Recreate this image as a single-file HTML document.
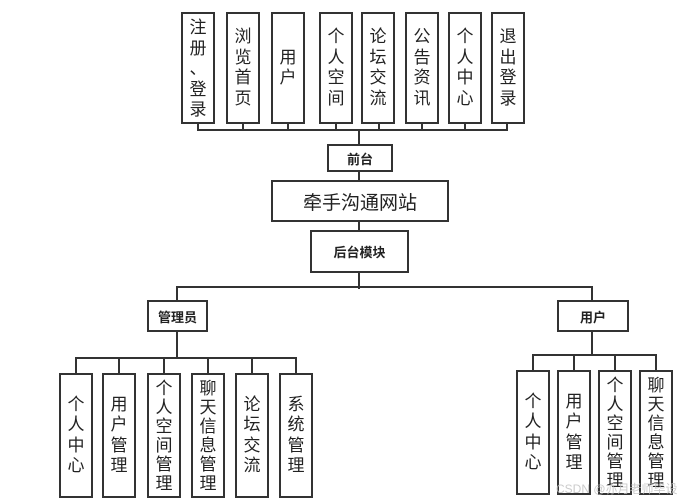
<!DOCTYPE html>
<html><head><meta charset="utf-8"><style>
body{margin:0;width:690px;height:500px;background:#fff;position:relative;overflow:hidden;font-family:"Liberation Sans","Noto Sans CJK SC",sans-serif;color:#222}
.b{position:absolute;border:2px solid #333;box-sizing:border-box;display:flex;align-items:center;justify-content:center;text-align:center;background:#fff}
.v{font-size:17px;line-height:20.5px}
.h{font-weight:bold;font-size:13px}
.l{position:absolute;background:#333}
</style></head><body>
<!-- top bus -->
<div class="l" style="left:197px;top:129px;width:311px;height:2px"></div>
<div class="l" style="left:197px;top:122px;width:2px;height:8px"></div>
<div class="l" style="left:242px;top:122px;width:2px;height:8px"></div>
<div class="l" style="left:287px;top:122px;width:2px;height:8px"></div>
<div class="l" style="left:335px;top:122px;width:2px;height:8px"></div>
<div class="l" style="left:378px;top:122px;width:2px;height:8px"></div>
<div class="l" style="left:421px;top:122px;width:2px;height:8px"></div>
<div class="l" style="left:464px;top:122px;width:2px;height:8px"></div>
<div class="l" style="left:506px;top:122px;width:2px;height:8px"></div>
<div class="l" style="left:358px;top:129px;width:2px;height:160px"></div>
<div class="b v" style="left:181px;top:12px;width:34px;height:112px;align-items:flex-start;padding-top:4px">注<br>册<br>、<br>登<br>录</div>
<div class="b v" style="left:226px;top:12px;width:34px;height:112px">浏<br>览<br>首<br>页</div>
<div class="b v" style="left:271px;top:12px;width:34px;height:112px">用<br>户</div>
<div class="b v" style="left:319px;top:12px;width:34px;height:112px">个<br>人<br>空<br>间</div>
<div class="b v" style="left:361px;top:12px;width:34px;height:112px">论<br>坛<br>交<br>流</div>
<div class="b v" style="left:405px;top:12px;width:34px;height:112px">公<br>告<br>资<br>讯</div>
<div class="b v" style="left:448px;top:12px;width:34px;height:112px">个<br>人<br>中<br>心</div>
<div class="b v" style="left:491px;top:12px;width:34px;height:112px">退<br>出<br>登<br>录</div>
<div class="b h" style="left:327px;top:144px;width:66px;height:28px">前台</div>
<div class="b" style="left:271px;top:180px;width:178px;height:42px;font-size:19px">牵手沟通网站</div>
<div class="b h" style="left:310px;top:230px;width:99px;height:43px">后台模块</div>
<!-- level bus -->
<div class="l" style="left:176px;top:286px;width:417px;height:2px"></div>
<div class="l" style="left:176px;top:286px;width:2px;height:15px"></div>
<div class="l" style="left:591px;top:286px;width:2px;height:15px"></div>
<div class="b h" style="left:147px;top:300px;width:61px;height:32px">管理员</div>
<div class="b h" style="left:557px;top:300px;width:72px;height:32px">用户</div>
<!-- admin children -->
<div class="l" style="left:176px;top:331px;width:2px;height:27px"></div>
<div class="l" style="left:75px;top:357px;width:222px;height:2px"></div>
<div class="l" style="left:75px;top:357px;width:2px;height:17px"></div>
<div class="l" style="left:118px;top:357px;width:2px;height:17px"></div>
<div class="l" style="left:163px;top:357px;width:2px;height:17px"></div>
<div class="l" style="left:207px;top:357px;width:2px;height:17px"></div>
<div class="l" style="left:251px;top:357px;width:2px;height:17px"></div>
<div class="l" style="left:295px;top:357px;width:2px;height:17px"></div>
<div class="b v" style="left:59px;top:373px;width:34px;height:125px">个<br>人<br>中<br>心</div>
<div class="b v" style="left:102px;top:373px;width:34px;height:125px">用<br>户<br>管<br>理</div>
<div class="b v" style="left:147px;top:373px;width:34px;height:125px;line-height:19px">个<br>人<br>空<br>间<br>管<br>理</div>
<div class="b v" style="left:191px;top:373px;width:34px;height:125px;line-height:19px">聊<br>天<br>信<br>息<br>管<br>理</div>
<div class="b v" style="left:235px;top:373px;width:34px;height:125px">论<br>坛<br>交<br>流</div>
<div class="b v" style="left:279px;top:373px;width:34px;height:125px">系<br>统<br>管<br>理</div>
<!-- user children -->
<div class="l" style="left:591px;top:331px;width:2px;height:24px"></div>
<div class="l" style="left:532px;top:354px;width:125px;height:2px"></div>
<div class="l" style="left:532px;top:354px;width:2px;height:17px"></div>
<div class="l" style="left:573px;top:354px;width:2px;height:17px"></div>
<div class="l" style="left:614px;top:354px;width:2px;height:17px"></div>
<div class="l" style="left:655px;top:354px;width:2px;height:17px"></div>
<div class="b v" style="left:516px;top:370px;width:34px;height:125px">个<br>人<br>中<br>心</div>
<div class="b v" style="left:557px;top:370px;width:34px;height:125px">用<br>户<br>管<br>理</div>
<div class="b v" style="left:598px;top:370px;width:34px;height:125px;line-height:19px">个<br>人<br>空<br>间<br>管<br>理</div>
<div class="b v" style="left:639px;top:370px;width:34px;height:125px;line-height:19px">聊<br>天<br>信<br>息<br>管<br>理</div>
<div style="position:absolute;left:556px;top:480px;font-size:12px;color:rgba(190,190,190,0.8)">CSDN @亦月老师毕设</div>
</body></html>
